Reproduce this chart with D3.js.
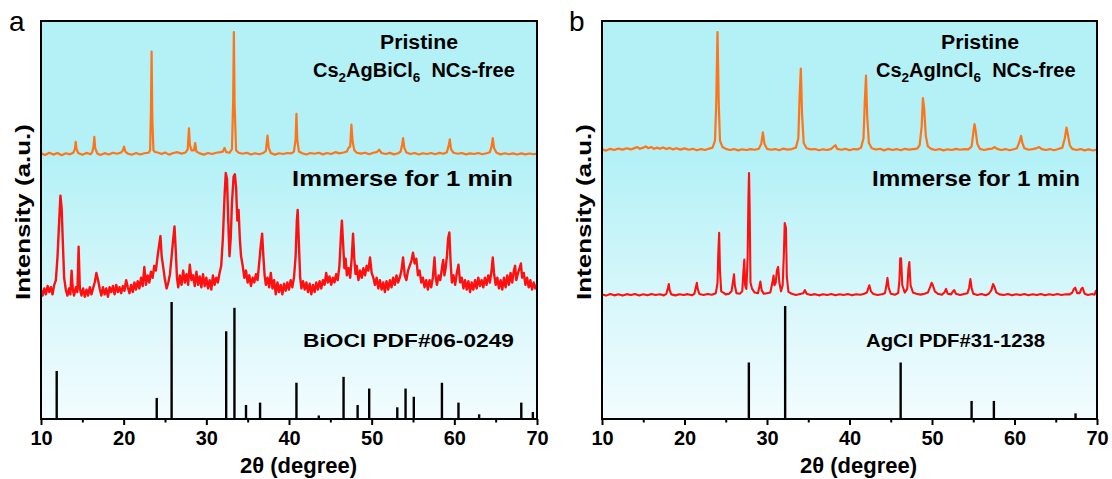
<!DOCTYPE html>
<html><head><meta charset="utf-8">
<script src="https://cdn.jsdelivr.net/npm/d3@7"></script>
<style>body{margin:0;background:#fff} svg{display:block} text{font-family:"Liberation Sans",Arial,sans-serif}</style>
</head><body>
<svg id="c" width="1112" height="479"></svg>
<script>
const xTicks=[10,20,30,40,50,60,70];
const xMinor=[15,25,35,45,55,65];

const pristineA=[[10.0,0.5],[10.5,-0.8],[11.0,1.0],[11.5,-0.5],[12.0,0.8],[12.5,-1.0],[13.0,0.6],[13.5,-0.3],[13.9,1.0],[14.1,4],[14.2,10],[14.3,4],[14.5,0.8],[15.0,-0.6],[15.5,0.9],[16.0,-0.2],[16.2,1.5],[16.35,6],[16.45,14],[16.55,5],[16.8,0.5],[17.2,-0.8],[17.7,0.7],[18.2,-0.4],[18.7,1.0],[19.2,0.2],[19.7,1.2],[19.9,3],[20.05,6],[20.2,2],[20.5,0.3],[21.0,-0.6],[21.5,0.8],[22.0,-0.4],[22.5,0.6],[23.0,1.0],[23.2,3],[23.3,35],[23.38,84],[23.46,30],[23.6,3],[23.8,1.6],[24.2,1.0],[24.6,0.0],[25.0,1.2],[25.5,-0.5],[26.0,0.8],[26.5,1.5],[27.0,0.3],[27.5,1.2],[27.75,4],[27.9,21],[28.0,8],[28.2,3],[28.5,3],[28.65,9],[28.8,2],[29.2,0.5],[29.7,-0.5],[30.2,0.8],[30.7,0.0],[31.2,1.0],[31.7,1.5],[32.0,2],[32.2,5],[32.4,1.5],[32.8,1.0],[33.1,4],[33.25,45],[33.33,100],[33.42,40],[33.6,3],[33.9,1.0],[34.4,0.2],[34.9,1.0],[35.4,-0.4],[35.9,0.6],[36.4,-0.2],[36.9,0.8],[37.2,2.5],[37.4,15],[37.55,5],[37.8,0.8],[38.3,-0.5],[38.8,0.6],[39.3,0.0],[39.8,0.8],[40.3,0.5],[40.6,2],[40.8,12],[40.9,33],[41.0,12],[41.2,2],[41.6,0.6],[42.1,-0.4],[42.6,0.8],[43.1,0.2],[43.6,1.0],[44.1,-0.3],[44.6,0.8],[45.1,0.0],[45.6,1.5],[46.1,0.5],[46.6,1.2],[47.0,2],[47.2,5],[47.4,6],[47.55,24],[47.7,10],[47.9,3],[48.2,1.0],[48.7,0.3],[49.2,1.0],[49.7,-0.2],[50.2,1.0],[50.6,1.5],[50.9,3.5],[51.2,0.8],[51.7,0.0],[52.2,0.9],[52.7,-0.3],[53.2,0.6],[53.5,2],[53.7,8],[53.8,13],[53.95,5],[54.2,1.2],[54.7,0.0],[55.2,0.8],[55.7,-0.4],[56.2,0.6],[56.7,0.0],[57.2,0.8],[57.7,-0.2],[58.2,0.9],[58.7,0.2],[59.1,1.5],[59.35,8],[59.45,12],[59.6,4],[59.9,1.0],[60.4,0.2],[60.9,0.8],[61.4,-0.3],[61.9,0.5],[62.4,0.0],[62.9,0.8],[63.4,-0.2],[63.9,0.6],[64.3,1.5],[64.5,6],[64.65,13],[64.8,5],[65.1,1.0],[65.6,-0.3],[66.1,0.6],[66.6,-0.2],[67.1,0.5],[67.6,-0.4],[68.1,0.5],[68.6,-0.3],[69.1,0.4],[69.6,-0.2],[70.0,0.3]];

const immersedA=[[10.0,2],[10.2,-3],[10.4,3],[10.6,-2],[10.8,5],[11.0,0],[11.2,4],[11.4,-2],[11.6,6],[11.8,10],[12.0,30],[12.2,60],[12.35,81],[12.5,70],[12.65,40],[12.8,12],[13.0,2],[13.2,-3],[13.4,3],[13.55,-2],[13.7,18],[13.85,2],[14.0,-3],[14.2,4],[14.4,0],[14.55,38],[14.7,3],[14.9,-3],[15.1,3],[15.3,-4],[15.5,2],[15.7,-3],[15.9,4],[16.1,-2],[16.3,3],[16.5,8],[16.7,16],[16.9,10],[17.1,3],[17.3,-3],[17.5,4],[17.7,-2],[17.9,3],[18.1,-4],[18.3,4],[18.5,0],[18.7,5],[18.9,-2],[19.1,6],[19.3,0],[19.5,4],[19.7,-1],[19.9,5],[20.1,1],[20.3,10],[20.5,4],[20.7,-1],[20.9,6],[21.1,0],[21.3,8],[21.5,2],[21.7,9],[21.9,3],[22.1,12],[22.3,5],[22.5,21],[22.7,6],[22.9,14],[23.1,8],[23.3,17],[23.5,12],[23.7,22],[23.9,18],[24.1,30],[24.3,40],[24.45,47],[24.6,30],[24.8,20],[25.0,10],[25.2,3],[25.4,8],[25.6,15],[25.8,30],[26.0,45],[26.15,55],[26.3,35],[26.45,12],[26.6,4],[26.8,14],[27.0,6],[27.2,18],[27.4,8],[27.6,15],[27.8,6],[28.0,23],[28.2,10],[28.4,14],[28.6,5],[28.8,17],[29.0,6],[29.2,13],[29.4,4],[29.6,15],[29.8,5],[30.0,12],[30.2,3],[30.4,10],[30.6,2],[30.8,14],[31.0,6],[31.2,12],[31.4,8],[31.6,16],[31.8,22],[32.0,45],[32.2,80],[32.35,100],[32.5,95],[32.65,60],[32.8,30],[32.95,45],[33.1,75],[33.3,97],[33.45,99],[33.6,88],[33.75,60],[33.9,69],[34.05,45],[34.2,30],[34.4,22],[34.6,12],[34.8,18],[35.0,8],[35.2,14],[35.4,5],[35.6,12],[35.8,8],[36.0,15],[36.2,10],[36.4,25],[36.6,40],[36.75,49],[36.9,30],[37.05,14],[37.2,6],[37.4,12],[37.6,4],[37.8,16],[38.0,3],[38.2,10],[38.4,-2],[38.6,8],[38.8,0],[39.0,6],[39.2,-2],[39.4,7],[39.6,1],[39.8,8],[40.0,2],[40.2,10],[40.4,4],[40.6,12],[40.8,30],[40.95,60],[41.05,69],[41.2,40],[41.35,12],[41.5,3],[41.7,9],[41.9,2],[42.1,8],[42.3,0],[42.5,7],[42.7,-2],[42.9,6],[43.1,0],[43.3,8],[43.5,2],[43.7,9],[43.9,3],[44.1,10],[44.3,6],[44.5,16],[44.7,8],[44.9,13],[45.1,6],[45.3,12],[45.5,8],[45.7,15],[45.9,10],[46.1,22],[46.3,50],[46.4,60],[46.55,40],[46.7,20],[46.85,28],[47.0,14],[47.2,20],[47.4,12],[47.6,30],[47.75,49],[47.9,28],[48.05,15],[48.2,22],[48.4,10],[48.6,18],[48.8,12],[49.0,20],[49.2,14],[49.4,22],[49.6,18],[49.8,29],[50.0,16],[50.2,12],[50.4,6],[50.6,12],[50.8,3],[51.0,10],[51.2,2],[51.4,8],[51.6,0],[51.8,9],[52.0,2],[52.2,10],[52.4,4],[52.6,12],[52.8,6],[53.0,14],[53.2,8],[53.4,12],[53.6,18],[53.8,29],[54.0,14],[54.2,10],[54.4,18],[54.6,22],[54.8,26],[55.0,33],[55.2,24],[55.4,28],[55.6,14],[55.8,18],[56.0,8],[56.2,12],[56.4,4],[56.6,10],[56.8,2],[57.0,10],[57.2,4],[57.4,12],[57.6,29],[57.75,12],[57.9,6],[58.1,14],[58.3,10],[58.5,20],[58.65,27],[58.8,14],[58.95,20],[59.1,30],[59.25,45],[59.4,50],[59.55,25],[59.7,8],[59.9,14],[60.1,6],[60.3,16],[60.5,23],[60.7,8],[60.9,12],[61.1,3],[61.3,10],[61.5,2],[61.7,9],[61.9,0],[62.1,8],[62.3,2],[62.5,10],[62.7,3],[62.9,12],[63.1,5],[63.3,10],[63.5,4],[63.7,12],[63.9,6],[64.1,14],[64.3,8],[64.5,18],[64.65,29],[64.8,16],[65.0,6],[65.2,12],[65.4,3],[65.6,10],[65.8,2],[66.0,12],[66.2,4],[66.4,14],[66.6,6],[66.8,16],[67.0,8],[67.2,18],[67.35,22],[67.5,10],[67.7,16],[67.9,20],[68.05,24],[68.2,12],[68.4,16],[68.6,6],[68.8,12],[69.0,4],[69.2,10],[69.4,2],[69.6,8],[69.8,3],[70.0,6]];

const refAPos=[11.9,24.0,25.8,32.4,33.4,34.8,36.5,40.9,43.6,46.6,48.3,49.7,53.1,54.1,55.1,58.5,60.5,63.0,68.1,69.5];
const refAInt=[41,18,100,75,95,12,14,31,3,36,12,26,10,26,19,31,14,4,14,6];

const pristineB=[[10.0,0.5],[10.5,-0.5],[11.0,1.0],[11.5,0.0],[12.0,1.2],[12.5,0.3],[13.0,1.5],[13.5,0.5],[14.0,1.8],[14.3,2.5],[14.6,1.0],[15.0,2.0],[15.3,3.0],[15.6,1.5],[16.0,2.5],[16.3,1.0],[16.7,2.0],[17.0,1.0],[17.4,2.2],[17.8,0.8],[18.2,1.8],[18.6,0.5],[19.0,1.5],[19.5,0.3],[20.0,1.4],[20.5,0.2],[21.0,1.0],[21.5,-0.2],[22.0,0.8],[22.5,0.0],[23.0,1.2],[23.4,2],[23.7,8],[23.85,40],[24.0,100],[24.15,40],[24.3,8],[24.6,2.5],[25.0,1.0],[25.5,0.0],[26.0,0.8],[26.5,-0.3],[27.0,0.6],[27.5,0.0],[28.0,0.8],[28.5,0.2],[29.0,1.0],[29.3,5],[29.5,15],[29.7,5],[30.0,1.0],[30.5,0.2],[31.0,0.8],[31.5,-0.2],[32.0,1.2],[32.5,0.3],[33.0,0.8],[33.5,2],[33.8,10],[33.95,45],[34.1,69],[34.25,30],[34.45,6],[34.8,1.5],[35.3,0.5],[35.8,0.8],[36.3,-0.2],[36.8,0.6],[37.3,0.0],[37.8,1.0],[38.1,3],[38.3,4],[38.5,1.0],[39.0,0.2],[39.5,1.0],[40.0,-0.2],[40.5,0.8],[41.0,0.5],[41.4,2],[41.7,10],[41.85,40],[42.0,63],[42.15,28],[42.35,6],[42.7,1.5],[43.2,0.4],[43.7,1.0],[44.2,-0.3],[44.7,1.0],[45.2,0.0],[45.7,0.8],[46.2,-0.2],[46.7,1.0],[47.2,0.3],[47.7,0.8],[48.2,1.2],[48.5,4],[48.75,20],[48.9,44],[49.05,35],[49.25,12],[49.5,3],[49.9,1.0],[50.4,0.0],[50.9,0.8],[51.4,-0.3],[51.9,0.6],[52.4,0.0],[52.9,1.0],[53.4,0.2],[53.9,0.8],[54.4,0.5],[54.8,3],[55.0,14],[55.15,22],[55.3,16],[55.5,5],[55.8,1.0],[56.3,0.0],[56.8,0.8],[57.3,1.2],[57.6,2.5],[57.9,1.0],[58.4,0.0],[58.9,0.8],[59.4,-0.2],[59.9,0.6],[60.3,1.5],[60.6,7],[60.8,12],[60.95,6],[61.2,1.5],[61.7,0.2],[62.2,0.8],[62.7,1.6],[63.0,2.5],[63.3,0.8],[63.8,0.0],[64.3,0.8],[64.8,-0.2],[65.3,0.8],[65.8,2],[66.1,10],[66.3,19],[66.45,14],[66.7,4],[67.0,1.0],[67.5,0.0],[68.0,0.8],[68.5,-0.3],[69.0,0.5],[69.5,-0.4],[70.0,0.3]];

const immersedB=[[10.0,0.5],[10.5,-0.5],[11.0,0.8],[11.5,-0.3],[12.0,0.6],[12.5,-0.5],[13.0,0.7],[13.5,0.0],[14.0,0.8],[14.5,-0.4],[15.0,0.6],[15.5,-0.2],[16.0,0.9],[16.5,0.0],[17.0,0.6],[17.5,-0.3],[17.8,1.0],[18.0,6],[18.1,9],[18.2,4],[18.4,0.5],[18.9,-0.3],[19.4,0.6],[19.9,0.0],[20.4,0.7],[20.9,-0.2],[21.2,1.0],[21.4,7],[21.5,10],[21.6,5],[21.8,0.8],[22.3,0.0],[22.8,0.8],[23.3,0.2],[23.8,1.5],[24.0,10],[24.1,35],[24.2,51],[24.3,20],[24.45,3],[24.7,2],[25.0,0.5],[25.4,1.0],[25.7,3],[25.9,12],[26.0,17],[26.1,8],[26.3,1.5],[26.7,1.0],[27.0,3],[27.15,20],[27.25,29],[27.35,8],[27.5,5],[27.65,30],[27.75,80],[27.82,100],[27.9,70],[28.0,10],[28.2,5],[28.5,2],[28.9,1.5],[29.05,6],[29.2,11],[29.35,4],[29.6,1.0],[30.0,1.5],[30.4,2],[30.65,10],[30.8,16],[30.9,8],[31.05,10],[31.2,20],[31.35,23],[31.5,10],[31.7,3],[31.9,8],[32.05,35],[32.15,59],[32.3,55],[32.4,15],[32.6,2.5],[33.0,1.0],[33.5,0.0],[34.0,0.8],[34.4,1.5],[34.6,4],[34.8,1.0],[35.3,0.0],[35.8,0.7],[36.3,-0.3],[36.8,0.6],[37.3,0.0],[37.8,0.8],[38.3,-0.2],[38.8,0.6],[39.3,0.0],[39.8,0.8],[40.3,-0.2],[40.8,0.6],[41.3,0.2],[41.8,1.0],[42.1,2],[42.4,8],[42.6,3],[42.9,0.8],[43.4,0.0],[43.9,0.6],[44.3,1.5],[44.5,9],[44.6,14],[44.75,6],[45.0,1.0],[45.5,0.2],[45.9,1.5],[46.05,12],[46.15,30],[46.25,30],[46.4,8],[46.7,2],[47.0,5],[47.15,22],[47.25,27],[47.4,8],[47.7,2],[48.1,1.0],[48.6,0.3],[49.1,1.0],[49.5,2],[49.8,7],[49.95,10],[50.1,8],[50.35,3],[50.7,1.0],[51.2,0.2],[51.5,2],[51.7,5],[51.9,1.0],[52.3,0.5],[52.55,3],[52.7,4],[52.9,1.0],[53.4,0.0],[53.9,0.8],[54.3,1.5],[54.5,6],[54.65,13],[54.8,6],[55.0,1.0],[55.5,0.0],[56.0,0.8],[56.5,-0.2],[56.9,1.0],[57.2,4],[57.4,9],[57.55,7],[57.8,2],[58.2,0.5],[58.7,0.0],[59.2,0.8],[59.7,-0.2],[60.2,0.6],[60.7,0.0],[61.2,0.8],[61.7,-0.2],[62.2,0.6],[62.7,0.0],[63.2,0.8],[63.7,-0.2],[64.2,0.6],[64.7,0.0],[65.2,0.8],[65.7,0.0],[66.2,0.6],[66.7,0.5],[67.0,2],[67.2,5],[67.35,6],[67.6,1.5],[67.9,1.5],[68.1,5],[68.25,6],[68.5,1.0],[68.9,0.0],[69.4,0.8],[69.7,0.2],[69.85,3],[70.0,4]];

const refBPos=[27.8,32.2,46.2,54.8,57.5,67.4];
const refBInt=[50,100,50,16,16,5];

const labelsA={pristine:["Pristine","Cs","2","AgBiCl","6","\u00a0\u00a0NCs-free"],immersed:"Immerse for 1 min",ref:"BiOCl PDF#06-0249",panel:"a"};
const labelsB={pristine:["Pristine","Cs","2","AgInCl","6","\u00a0\u00a0NCs-free"],immersed:"Immerse for 1 min",ref:"AgCl PDF#31-1238",panel:"b"};
const xTitle="2θ (degree)";
const yTitle="Intensity (a.u.)";

const svg=d3.select("#c");
const defs=svg.append("defs");
const grad=defs.append("linearGradient").attr("id","bg").attr("x1",0).attr("y1",0).attr("x2",0).attr("y2",1);
grad.append("stop").attr("offset","0%").attr("stop-color","#b3f1f7");
grad.append("stop").attr("offset","45%").attr("stop-color","#d2f6fa");
grad.append("stop").attr("offset","100%").attr("stop-color","#f3fcfe");

const TOP=21,BOTTOM=419;
const panels=[
 {left:41,right:537,pristine:pristineA,immersed:immersedA,refPos:refAPos,refInt:refAInt,labels:labelsA,
  yP:[154,32],yI:[292,173],yR:[419,302],
  txt:{pr:[380,49,78],cs:[313,77],im:[292,186,221],ref:[303,347,211],ytitle:[22,212,176],panel:[9,31],xtitle:[240,473,117]}},
 {left:602,right:1097,pristine:pristineB,immersed:immersedB,refPos:refBPos,refInt:refBInt,labels:labelsB,
  yP:[150,32],yI:[295,173],yR:[419,306],
  txt:{pr:[941,49,78],cs:[876,77],im:[872,186,208],ref:[866,347,179],ytitle:[583,212,176],panel:[569,31],xtitle:[800,473,117]}}
];

panels.forEach((p,i)=>{
  const g=svg.append("g");
  const x=d3.scaleLinear().domain([10,70]).range([p.left,p.right]);
  const sP=d3.scaleLinear().domain([0,100]).range(p.yP);
  const sI=d3.scaleLinear().domain([0,100]).range(p.yI);
  const sR=d3.scaleLinear().domain([0,100]).range(p.yR);
  const cid="clip"+i;
  defs.append("clipPath").attr("id",cid).append("rect").attr("x",p.left).attr("y",TOP).attr("width",p.right-p.left).attr("height",BOTTOM-TOP);
  g.append("rect").attr("x",p.left).attr("y",TOP).attr("width",p.right-p.left).attr("height",158-TOP).attr("fill","#b3f1f7");
  g.append("rect").attr("x",p.left).attr("y",158).attr("width",p.right-p.left).attr("height",BOTTOM-158).attr("fill","url(#bg)");
  const pg=g.append("g").attr("clip-path",`url(#${cid})`);
  pg.append("path").datum(p.pristine).attr("fill","none").attr("stroke","#ff7417").attr("stroke-width",2.2).attr("stroke-linejoin","round")
    .attr("d",d3.line().x(d=>x(d[0])).y(d=>sP(d[1])));
  pg.append("path").datum(p.immersed).attr("fill","none").attr("stroke","#ff1010").attr("stroke-width",i===0?2.4:2.1).attr("stroke-linejoin","round")
    .attr("d",d3.line().x(d=>x(d[0])).y(d=>sI(d[1])));
  pg.selectAll("line.ref").data(p.refPos).join("line").attr("class","ref")
    .attr("x1",d=>x(d)).attr("x2",d=>x(d)).attr("y1",sR(0)).attr("y2",(d,k)=>sR(p.refInt[k]))
    .attr("stroke","#000").attr("stroke-width",2.4);
  const ax=d3.axisBottom(x).tickValues(xTicks).tickSize(6).tickFormat(d3.format("d"));
  const axG=g.append("g").attr("transform",`translate(0,${BOTTOM})`).call(ax);
  axG.select(".domain").remove();
  axG.selectAll(".tick line").attr("stroke","#000").attr("stroke-width",2);
  axG.selectAll(".tick text").attr("font-size",20).attr("font-weight","bold").attr("fill","#000").attr("dy","0.85em").attr("font-family","Liberation Sans, Arial, sans-serif");
  const mi=d3.axisBottom(x).tickValues(xMinor).tickSize(3.5).tickFormat("");
  const miG=g.append("g").attr("transform",`translate(0,${BOTTOM})`).call(mi);
  miG.select(".domain").remove();
  miG.selectAll(".tick line").attr("stroke","#000").attr("stroke-width",2);
  g.append("rect").attr("x",p.left).attr("y",TOP).attr("width",p.right-p.left).attr("height",BOTTOM-TOP)
    .attr("fill","none").attr("stroke","#000").attr("stroke-width",2);
  const t=p.txt, L=p.labels;
  g.append("text").attr("x",t.pr[0]).attr("y",t.pr[1]).attr("font-size",20).attr("font-weight","bold")
    .attr("textLength",t.pr[2]).attr("lengthAdjust","spacingAndGlyphs").text(L.pristine[0]);
  const cs=g.append("text").attr("x",t.cs[0]).attr("y",t.cs[1]).attr("font-size",20).attr("font-weight","bold");
  cs.append("tspan").text(L.pristine[1]);
  cs.append("tspan").attr("font-size",13.5).attr("dy",5).text(L.pristine[2]);
  cs.append("tspan").attr("dy",-5).text(L.pristine[3]);
  cs.append("tspan").attr("font-size",13.5).attr("dy",5).text(L.pristine[4]);
  cs.append("tspan").attr("dy",-5).text(L.pristine[5]);
  g.append("text").attr("x",t.im[0]).attr("y",t.im[1]).attr("font-size",22).attr("font-weight","bold")
    .attr("textLength",t.im[2]).attr("lengthAdjust","spacingAndGlyphs").text(L.immersed);
  g.append("text").attr("x",t.ref[0]).attr("y",t.ref[1]).attr("font-size",19).attr("font-weight","bold")
    .attr("textLength",t.ref[2]).attr("lengthAdjust","spacingAndGlyphs").text(L.ref);
  g.append("text").attr("transform",`translate(${t.ytitle[0]+8},${t.ytitle[1]}) rotate(-90)`).attr("text-anchor","middle")
    .attr("font-size",21).attr("font-weight","bold").attr("textLength",t.ytitle[2]).attr("lengthAdjust","spacingAndGlyphs").text(yTitle);
  g.append("text").attr("x",t.panel[0]).attr("y",t.panel[1]).attr("font-size",28).text(L.panel);
  g.append("text").attr("x",t.xtitle[0]).attr("y",t.xtitle[1]).attr("font-size",22).attr("font-weight","bold")
    .attr("textLength",t.xtitle[2]).attr("lengthAdjust","spacingAndGlyphs").text(xTitle);
});
</script>
</body></html>
